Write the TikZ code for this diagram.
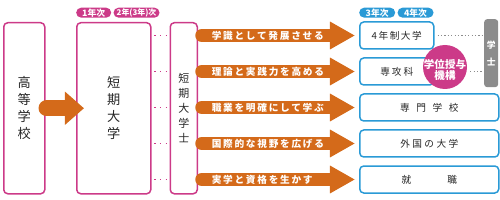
\documentclass[tikz,border=0pt]{standalone}
\usepackage{fontspec}
\setmainfont{Noto Sans CJK JP}
\usepackage{xcolor}
\usetikzlibrary{arrows.meta,positioning,shapes.geometric}

\newlength{\pxl}
\setlength{\pxl}{0.04cm}
\definecolor{tpink}{HTML}{CC3A88}
\definecolor{torange}{HTML}{D46A1A}
\definecolor{tblue}{HTML}{2A9AD6}
\definecolor{tgray}{HTML}{8C8C8C}
\definecolor{tink}{HTML}{262626}

\begin{document}
\begin{tikzpicture}[
    x=0.04cm, y=-0.04cm,
    pbox/.style={rectangle, draw=tpink, line width=1.5\pxl, rounded corners=4\pxl,
                 anchor=north west, inner sep=0pt, align=center, text=tink,
                 minimum height=171\pxl},
    bbox/.style={rectangle, draw=tblue, line width=1.5\pxl, rounded corners=4\pxl,
                 anchor=west, inner sep=0pt, minimum height=27\pxl, text=tink},
    pill/.style={rectangle, fill=#1, rounded corners=5\pxl, minimum height=10\pxl,
                 inner sep=0pt, anchor=north west, text=white,
                 font=\bfseries\fontsize{10}{10}\selectfont},
    bigarr/.style={draw=torange, line width=16\pxl, line cap=round,
                   -{Triangle[length=0.76cm, width=1.28cm]}},
    fatarr/.style={draw=torange, line width=13.5\pxl, line cap=round,
                   -{Triangle[length=1.0cm, width=1.04cm]}},
    arrtxt/.style={inner sep=0pt, text=white, anchor=west,
                   font=\bfseries\fontsize{11}{11}\selectfont\addfontfeature{LetterSpace=18}},
    pdots/.style={draw=tpink, line width=1.6\pxl, dash pattern=on 1.6\pxl off 4.2\pxl,
                  shorten <=2.5\pxl, shorten >=3\pxl},
    gdots/.style={draw=tgray, line width=1.2\pxl, dash pattern=on 1.2\pxl off 2.2\pxl,
                  shorten <=3\pxl, shorten >=2\pxl}
]
\useasboundingbox (0,0) rectangle (500,200);

% Left: school columns
\node[pbox, minimum width=41\pxl, font=\fontsize{15}{19.3}\selectfont]
     (hs) at (3,22) {高\\等\\学\\校};
\node[pbox, minimum width=74\pxl, font=\fontsize{15}{19.3}\selectfont]
     (tandai) at (76,22) {短\\期\\大\\学};
\node[pbox, minimum width=27\pxl, font=\fontsize{12.5}{17}\selectfont]
     (sdt) at (169.5,22) {短\\期\\大\\学\\士};

% Year tags
\node[pill=tpink, minimum width=35\pxl] (y1) at (76,7.5) {1年次};
\node[pill=tpink, minimum width=46\pxl, right=2\pxl of y1.north east, anchor=north west,
      font=\bfseries\fontsize{9}{10}\selectfont] (y2) {2年(3年)次};
\node[pill=tblue, minimum width=36\pxl] (y3) at (359,7.5) {3年次};
\node[pill=tblue, minimum width=36\pxl, right=2\pxl of y3.north east, anchor=north west] (y4) {4年次};

% Right: destinations
\node[bbox, minimum width=74\pxl, font=\fontsize{11}{11}\selectfont\addfontfeature{LetterSpace=16}]
     (r1) at (359,35.5) {4年制大学};
\node[bbox, minimum width=74\pxl, font=\fontsize{11}{11}\selectfont\addfontfeature{LetterSpace=20}]
     (r2) at (359,71.5) {専攻科};
\node[bbox, minimum width=139\pxl, font=\fontsize{11}{11}\selectfont\addfontfeature{LetterSpace=68}]
     (r3) at (359,107.5) {専門学校};
\node[bbox, minimum width=139\pxl, font=\fontsize{11}{11}\selectfont\addfontfeature{LetterSpace=25}]
     (r4) at (359,143.5) {外国の大学};
\node[bbox, minimum width=139\pxl, font=\fontsize{11}{11}\selectfont]
     (r5) at (359,179.5) {就\hspace{36\pxl}職};

% Bachelor bar and awarding body
\node[rectangle, fill=tgray, rounded corners=3\pxl, anchor=north west, inner sep=0pt,
      minimum width=14\pxl, minimum height=68\pxl, text=white, align=center,
      font=\bfseries\fontsize{10}{19}\selectfont] (gs) at (484,19) {学\\士};
\node[circle, fill=tpink, minimum size=44\pxl, inner sep=0pt] (kikou) at (445,67) {};
\node[inner sep=0pt, text=white, align=center, font=\bfseries\fontsize{12}{12.5}\selectfont]
     (kikoutxt) at ([yshift=-3\pxl]kikou.center) {学位授与\\機構};

% Dotted links
\foreach \r in {r1,r2,r3,r4,r5}
    \draw[pdots] (tandai.east |- \r) -- (sdt.west |- \r);
\draw[gdots] (r1.east) -- (gs.west |- r1);
\draw[gdots] (kikou.east |- r2) -- (gs.west |- r2);

% Arrows
\draw[bigarr] ([xshift=1\pxl]hs.east) -- ([xshift=8\pxl]tandai.west);
\foreach \r/\t in {r1/学識として発展させる, r2/理論と実践力を高める,
                   r3/職業を明確にして学ぶ, r4/国際的な視野を広げる, r5/実学と資格を生かす}
    \draw[fatarr] ([xshift=4\pxl]sdt.east |- \r) -- ([xshift=-4\pxl]\r.west)
        node[arrtxt, at start, xshift=3\pxl] {\t};
\end{tikzpicture}
\end{document}
